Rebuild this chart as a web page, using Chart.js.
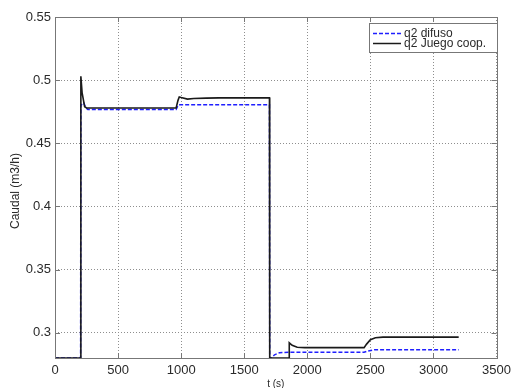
<!DOCTYPE html>
<html>
<head>
<meta charset="utf-8">
<script src="https://cdn.jsdelivr.net/npm/chart.js@4.4.1/dist/chart.umd.min.js"></script>
<style>
  html, body { margin: 0; padding: 0; background: #fff; }
  #wrap { width: 516px; height: 388px; }
</style>
</head>
<body>
<div id="wrap"><canvas id="c" width="516" height="388"></canvas></div>
<script>
// ---- data ----
const seriesLabels = ['q2 difuso', 'q2 Juego coop.'];
const yTitle = 'Caudal (m3/h)';
const xTitle = 't (s)';

const tDifuso = [0, 203, 205, 215, 228, 245, 260, 960, 975, 990, 1700, 1702, 1715, 1740, 1780, 1850, 2450, 2480, 2530, 3200];
const qDifuso = [0.28, 0.28, 0.480, 0.481, 0.482, 0.478, 0.4768, 0.4768, 0.4800, 0.4805, 0.4805, 0.28, 0.28, 0.2825, 0.2842, 0.2845, 0.2845, 0.2855, 0.2865, 0.2866];

const tJuego = [0, 203, 205, 215, 235, 250, 960, 975, 985, 1000, 1050, 1100, 1200, 1300, 1700, 1702, 1855, 1857, 1880, 1920, 1980, 2450, 2470, 2500, 2540, 2600, 3200];
const qJuego = [0.28, 0.28, 0.503, 0.490, 0.479, 0.478, 0.478, 0.484, 0.4866, 0.4862, 0.4850, 0.4855, 0.4858, 0.4860, 0.4860, 0.28, 0.28, 0.292, 0.2900, 0.2885, 0.2882, 0.2882, 0.2910, 0.2945, 0.2960, 0.2965, 0.2965];

const xTicks = [0, 500, 1000, 1500, 2000, 2500, 3000, 3500];
const yTicks = [0.3, 0.35, 0.4, 0.45, 0.5, 0.55];
const yMin = 0.28, yMax = 0.55;

const colDifuso = '#1f1fff';
const colJuego = '#1a1a1a';
const frameColor = '#777777';
const gridColor = '#8e8e8e';
const textColor = '#2a2a2a';
const fontFamily = '"Liberation Sans", Arial, sans-serif';

const pts = (t, q) => t.map((x, i) => ({ x: x, y: q[i] }));

const framePlugin = {
  id: 'frame',
  afterDatasetsDraw(chart) {
    const ctx = chart.ctx;
    const a = chart.chartArea;
    const xs = chart.scales.x, ys = chart.scales.y;
    ctx.save();
    ctx.strokeStyle = frameColor;
    ctx.lineWidth = 1;
    ctx.setLineDash([]);
    ctx.strokeRect(Math.round(a.left) + 0.5, Math.round(a.top) + 0.5, Math.round(a.right - a.left), Math.round(a.bottom - a.top));
    const tl = 5;
    ctx.beginPath();
    xTicks.forEach(v => {
      const px = Math.round(xs.getPixelForValue(v)) + 0.5;
      ctx.moveTo(px, a.bottom); ctx.lineTo(px, a.bottom - tl);
      ctx.moveTo(px, a.top); ctx.lineTo(px, a.top + tl);
    });
    yTicks.forEach(v => {
      const py = Math.round(ys.getPixelForValue(v)) + 0.5;
      ctx.moveTo(a.left, py); ctx.lineTo(a.left + tl, py);
      ctx.moveTo(a.right, py); ctx.lineTo(a.right - tl, py);
    });
    ctx.stroke();

    // axis titles
    ctx.fillStyle = textColor;
    ctx.textAlign = 'center';
    ctx.textBaseline = 'middle';
    ctx.font = '12px ' + fontFamily;
    ctx.save();
    ctx.translate(16, 191);
    ctx.rotate(-Math.PI / 2);
    ctx.fillText(yTitle, 0, 0);
    ctx.restore();
    ctx.font = '10px ' + fontFamily;
    ctx.fillText(xTitle, (a.left + a.right) / 2, 384);

    // legend box
    const lx = 369, ly = 23, lw = 128, lh = 29;
    ctx.fillStyle = '#fff';
    ctx.fillRect(lx, ly, lw, lh);
    ctx.strokeStyle = frameColor;
    ctx.lineWidth = 1;
    ctx.strokeRect(lx + 0.5, ly + 0.5, lw, lh);
    const dsets = chart.data.datasets;
    const rows = [ly + 10, ly + 20];
    ctx.font = '12px ' + fontFamily;
    const w12 = ctx.measureText(seriesLabels[1]).width;
    const fs = Math.min(12, 12 * 88 / w12);
    ctx.font = fs.toFixed(2) + 'px ' + fontFamily;
    ctx.textBaseline = 'middle';
    ctx.textAlign = 'left';
    dsets.forEach((ds, i) => {
      const y = rows[i] + 0.5;
      ctx.beginPath();
      ctx.strokeStyle = ds.borderColor;
      ctx.lineWidth = 1.5;
      ctx.setLineDash(ds.borderDash || []);
      ctx.moveTo(373, y); ctx.lineTo(401, y);
      ctx.stroke();
      ctx.setLineDash([]);
      ctx.fillStyle = textColor;
      ctx.fillText(ds.label, 404, rows[i] + 1);
    });
    ctx.restore();
  }
};

new Chart(document.getElementById('c'), {
  type: 'line',
  data: {
    datasets: [
      { label: seriesLabels[0], data: pts(tDifuso, qDifuso), borderColor: colDifuso, borderWidth: 1.5, borderDash: [4, 2], pointRadius: 0, tension: 0, fill: false, order: 1, clip: 4 },
      { label: seriesLabels[1], data: pts(tJuego, qJuego), borderColor: colJuego, borderWidth: 1.6, pointRadius: 0, tension: 0, fill: false, order: 0, clip: 4 }
    ]
  },
  options: {
    responsive: false,
    animation: false,
    devicePixelRatio: 1,
    layout: { padding: { top: 17, right: 15, left: 0, bottom: 0 } },
    plugins: { legend: { display: false }, tooltip: { enabled: false } },
    scales: {
      x: {
        type: 'linear', min: 0, max: 3500,
        afterBuildTicks: s => { s.ticks = xTicks.map(v => ({ value: v })); },
        afterFit: s => { s.height = 30; },
        grid: { color: gridColor, lineWidth: 1, drawTicks: false },
        border: { display: false, dash: [1, 2] },
        ticks: { padding: 5, color: textColor, font: { family: fontFamily, size: 13 }, maxRotation: 0, callback: v => String(v) },
        title: { display: false }
      },
      y: {
        type: 'linear', min: yMin, max: yMax,
        afterBuildTicks: s => { s.ticks = yTicks.map(v => ({ value: v })); },
        afterFit: s => { s.width = 55; },
        grid: { color: gridColor, lineWidth: 1, drawTicks: false },
        border: { display: false, dash: [1, 2] },
        ticks: { padding: 4, color: textColor, font: { family: fontFamily, size: 13 }, callback: v => String(Math.round(v * 100) / 100) },
        title: { display: false }
      }
    }
  },
  plugins: [framePlugin]
});
</script>
</body>
</html>
